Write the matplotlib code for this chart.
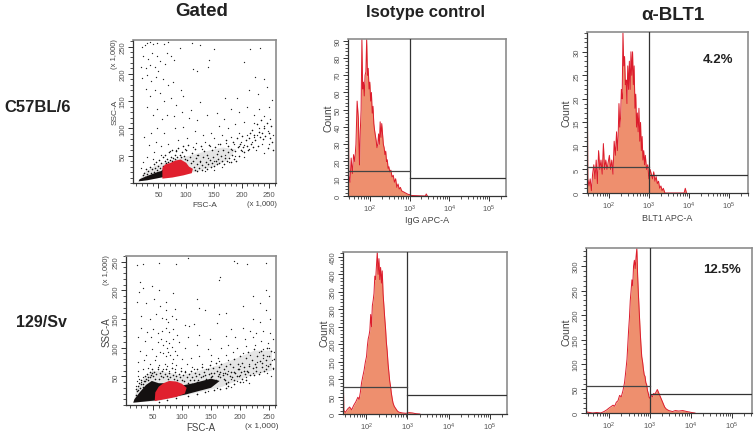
import matplotlib
matplotlib.use("Agg")
import matplotlib.pyplot as plt
import numpy as np
from matplotlib.ticker import LogLocator, MultipleLocator, NullFormatter

plt.rcParams['font.family'] = ['Liberation Sans', 'DejaVu Sans']
plt.rcParams['mathtext.default'] = 'regular'

W, H = 755, 435

# ---- scatter data (FSC, SSC in thousands)
top_core = [(14, 3), (30, 5), (60, 11), (62, 24), (48, 20), (30, 13), (16, 7)]
top_cloud = [(14, 3), (60, 11), (115, 20), (150, 30), (175, 42), (190, 62), (165, 65), (135, 58),
             (105, 50), (75, 42), (45, 32), (25, 20)]
top_gate = [(57, 8), (75, 10), (95, 14), (110, 18), (112, 26), (105, 30), (100, 37), (90, 43),
            (80, 41), (72, 37), (62, 34), (57, 28)]
top_points = [(20, 250), (25, 253), (30, 257), (34, 258), (40, 255), (47, 257), (60, 255), (68, 258), (88, 248),
              (110, 256), (125, 252), (150, 246), (215, 245), (233, 248), (22, 232), (31, 228), (38, 238),
              (47, 233), (52, 224), (65, 239), (72, 233), (18, 213), (27, 210), (35, 217), (44, 212), (50, 205),
              (62, 218), (78, 225), (113, 208), (120, 205), (140, 212), (142, 226), (205, 222), (225, 195),
              (240, 190), (20, 192), (29, 198), (37, 187), (46, 194), (58, 190), (67, 180), (77, 185), (90, 170),
              (27, 172), (35, 160), (44, 170), (52, 165), (60, 150), (72, 155), (82, 143), (95, 160), (108, 133),
              (125, 148), (170, 155), (192, 156), (214, 170), (230, 163), (245, 175), (255, 152), (250, 140),
              (30, 140), (40, 125), (47, 135), (56, 118), (66, 125), (78, 122), (92, 130), (105, 120), (120, 115),
              (137, 125), (155, 128), (168, 118), (181, 135), (196, 130), (210, 140), (222, 125), (232, 135),
              (241, 122), (252, 118), (222, 110), (232, 100), (240, 105), (248, 95), (256, 88), (204, 112),
              (188, 108), (176, 100), (160, 104), (145, 92), (130, 88), (115, 95), (95, 102), (80, 100), (60, 92),
              (48, 100), (36, 92), (24, 85), (33, 70), (45, 75), (55, 68), (68, 72), (85, 78), (102, 82), (118, 74),
              (134, 76), (150, 82), (165, 88), (180, 85), (195, 92), (210, 88), (222, 84), (236, 72), (250, 72),
              (228, 88), (218, 76), (205, 70), (198, 76), (186, 72), (172, 74), (158, 72), (143, 68), (128, 63),
              (112, 66), (98, 62), (82, 60), (70, 58), (55, 52), (42, 56), (30, 48), (22, 38), (18, 28), (40, 44),
              (200, 58), (214, 62), (226, 60), (240, 55), (205, 48), (188, 50), (178, 38), (165, 30), (150, 24),
              (133, 22), (150, 40), (140, 46), (125, 38), (170, 52), (195, 68), (183, 60), (157, 58), (120, 52)]
top_band = [(20, 8), (22, 14), (24, 19), (26, 11), (27, 25), (29, 16), (31, 22), (33, 12), (34, 30), (36, 19), (38, 26),
            (39, 14), (41, 34), (42, 20), (44, 27), (45, 17), (46, 38), (47, 24), (49, 31), (50, 19), (51, 42), (53, 28),
            (55, 36), (56, 23), (58, 47), (59, 31), (61, 40), (62, 52), (64, 36), (66, 44), (67, 38), (69, 56), (70, 42),
            (72, 48), (74, 40), (75, 61), (77, 46), (79, 52), (80, 44), (82, 58), (84, 48), (86, 64), (88, 52), (90, 47),
            (92, 57), (94, 67), (96, 50), (98, 44), (100, 60), (102, 42), (104, 70), (106, 48), (108, 36), (110, 55),
            (112, 40), (114, 30), (116, 62), (115, 24), (118, 45), (119, 34), (120, 22), (121, 52), (123, 28), (125, 41),
            (126, 68), (128, 33), (129, 24), (131, 47), (132, 58), (134, 30), (135, 38), (137, 26), (138, 52), (140, 34),
            (141, 70), (143, 42), (144, 29), (146, 60), (147, 36), (149, 48), (150, 31), (152, 66), (153, 40), (155, 34),
            (156, 53), (158, 44), (160, 36), (161, 72), (163, 49), (165, 40), (166, 60), (168, 35), (170, 46), (171, 78),
            (173, 40), (175, 56), (176, 68), (178, 46), (180, 38), (181, 62), (183, 52), (185, 75), (186, 44), (188, 58),
            (190, 40), (191, 82), (193, 66), (195, 50), (197, 72), (199, 60), (201, 86), (203, 66), (205, 56), (207, 78),
            (209, 68), (211, 60), (213, 82), (215, 92), (217, 72), (219, 98), (221, 66), (223, 88), (225, 78), (227, 108),
            (229, 68), (231, 94), (233, 84), (235, 115), (237, 92), (239, 80), (241, 100), (243, 86), (245, 110), (247, 64),
            (249, 92), (251, 82), (253, 104), (255, 76), (257, 60)]

bot_core = [(16, 4), (55, 8), (105, 18), (150, 30), (165, 42), (150, 46), (120, 38), (100, 34), (85, 38),
            (60, 38), (48, 42), (38, 35), (27, 22), (18, 10)]
bot_cloud = [(16, 4), (60, 7), (120, 20), (170, 32), (215, 50), (255, 60), (255, 95), (225, 95), (195, 82), (165, 70),
             (130, 60), (100, 52), (70, 58), (50, 60), (35, 48), (22, 28)]
bot_gate = [(53, 7), (70, 10), (90, 14), (105, 20), (108, 30), (100, 37), (90, 41), (78, 42), (68, 38),
            (60, 32), (54, 22)]
bot_points = [(22, 245), (32, 246), (60, 248), (90, 246), (110, 257), (190, 252), (195, 248), (212, 246), (245, 248),
              (165, 224), (163, 218), (28, 215), (26, 198), (33, 205), (48, 208), (60, 200), (73, 180), (85, 195),
              (125, 185), (222, 190), (245, 200), (250, 190), (235, 178), (22, 180), (38, 178), (52, 185), (62, 172),
              (72, 165), (88, 168), (130, 170), (140, 165), (163, 158), (175, 160), (205, 172), (245, 165), (252, 150),
              (235, 145), (222, 150), (30, 155), (44, 150), (55, 158), (65, 152), (72, 150), (76, 145), (82, 155),
              (90, 150), (105, 140), (112, 138), (120, 142), (160, 143), (185, 133), (205, 135), (218, 130), (228, 125),
              (240, 130), (252, 125), (30, 135), (40, 128), (50, 132), (58, 125), (66, 130), (72, 135), (78, 128),
              (84, 132), (92, 122), (110, 118), (130, 122), (148, 115), (175, 120), (192, 118), (208, 115), (222, 118),
              (236, 112), (248, 108), (256, 115), (24, 118), (36, 112), (46, 118), (58, 110), (64, 115), (68, 105),
              (72, 112), (75, 100), (78, 108), (82, 102), (85, 115), (88, 95), (94, 110), (105, 100), (125, 105),
              (145, 98), (168, 100), (180, 105), (195, 100), (210, 103), (225, 105), (240, 98), (250, 100), (258, 92),
              (28, 95), (38, 88), (48, 98), (55, 85), (62, 92), (67, 90), (72, 85), (76, 92), (80, 88), (85, 80),
              (92, 88), (100, 80), (115, 82), (130, 85), (150, 88), (162, 82), (175, 88), (188, 92), (205, 90),
              (218, 88), (232, 92), (246, 85), (255, 78), (25, 75), (35, 78), (45, 72), (53, 78), (60, 70), (70, 72),
              (75, 68), (82, 74), (90, 70), (98, 65), (108, 72), (118, 66), (135, 72), (150, 76), (163, 76), (180, 78),
              (200, 68), (215, 72), (230, 75), (245, 70), (256, 62), (24, 60), (32, 62), (42, 65), (58, 66), (68, 62),
              (78, 60), (88, 62), (105, 60), (120, 62), (200, 52), (210, 48), (222, 55), (235, 58), (246, 55), (253, 50),
              (185, 45), (195, 42), (205, 40), (215, 38), (175, 36), (185, 32), (160, 30), (145, 24), (125, 19),
              (22, 42), (20, 34), (25, 50), (30, 40), (26, 45), (33, 48), (180, 60), (170, 55), (142, 62), (240, 82)]
bot_band = [(20, 18), (22, 24), (24, 33), (26, 38), (28, 30), (30, 44), (32, 36), (34, 42), (36, 50), (38, 46), (40, 54),
            (42, 48), (44, 58), (46, 52), (48, 56), (21, 28), (25, 26), (29, 36), (33, 32), (37, 42), (41, 44), (45, 48),
            (49, 62), (50, 50), (52, 58), (54, 46), (56, 54), (58, 62), (60, 46), (62, 56), (64, 50), (66, 60), (68, 48),
            (70, 54), (72, 62), (74, 50), (76, 46), (78, 56), (80, 48), (82, 64), (84, 52), (86, 46), (88, 58), (90, 50),
            (92, 44), (94, 54), (96, 48), (98, 60), (100, 44), (102, 52), (104, 42), (106, 58), (108, 48), (110, 38),
            (112, 54), (114, 44), (116, 60), (118, 48), (120, 44), (122, 56), (124, 50), (126, 62), (128, 44), (130, 54),
            (132, 48), (134, 66), (136, 50), (138, 58), (140, 52), (142, 46), (144, 62), (146, 54), (148, 70), (150, 56),
            (152, 50), (154, 64), (156, 56), (158, 74), (160, 60), (162, 50), (164, 66), (166, 58), (168, 72), (170, 52),
            (172, 62), (174, 44), (176, 68), (178, 54), (180, 40), (182, 72), (184, 58), (186, 48), (188, 66), (190, 80),
            (192, 56), (194, 50), (196, 72), (198, 62), (200, 86), (202, 58), (204, 74), (206, 66), (208, 54), (210, 82),
            (212, 60), (214, 92), (216, 68), (218, 52), (220, 78), (222, 64), (224, 98), (226, 72), (228, 60), (230, 86),
            (232, 54), (234, 76), (236, 94), (238, 66), (240, 88), (242, 60), (244, 78), (246, 100), (248, 68), (250, 86),
            (252, 72), (254, 94), (256, 64), (258, 80), (110, 32), (118, 36), (126, 41), (134, 38), (142, 42), (150, 48),
            (158, 44), (166, 48), (172, 46), (176, 38), (183, 50), (190, 44), (198, 50), (204, 46), (214, 58), (224, 52),
            (228, 66), (238, 74), (244, 62), (190, 58), (196, 62), (206, 60), (174, 56), (164, 54), (60, 6), (75, 9),
            (90, 12), (110, 16), (125, 20), (140, 23), (155, 26), (165, 28), (175, 30), (180, 34), (190, 36), (200, 40),
            (210, 44)]

# ---- histogram data: log10 of the APC signal, counts
iso1_logx = [1.45, 1.47, 1.50, 1.53, 1.56, 1.59, 1.62, 1.65, 1.68, 1.71, 1.74, 1.76, 1.78, 1.80, 1.82, 1.84, 1.86, 1.88,
             1.90, 1.92, 1.94, 1.96, 1.98, 2.00, 2.02, 2.04, 2.06, 2.08, 2.10, 2.12, 2.14, 2.16, 2.18, 2.20, 2.22, 2.24,
             2.26, 2.28, 2.30, 2.32, 2.34, 2.36, 2.38, 2.40, 2.42, 2.44, 2.46, 2.48, 2.50, 2.53, 2.56, 2.59, 2.62, 2.65,
             2.68, 2.71, 2.74, 2.77, 2.80, 2.84, 2.88, 2.92, 2.96, 3.00, 3.05, 3.40, 3.42, 3.45]
iso1_count = [91, 12, 8, 22, 13, 24, 20, 30, 55, 45, 18, 38, 50, 91, 62, 66, 58, 70, 72, 91, 70, 74, 62, 66, 55, 60, 48,
              52, 42, 38, 35, 32, 28, 30, 36, 30, 43, 34, 42, 36, 30, 28, 24, 26, 20, 21, 16, 17, 14, 15, 11, 12, 8, 10,
              5, 7, 4, 5, 3, 2.5, 2, 1.5, 1, 0.8, 0.3, 0, 1.2, 0]

blt1_logx = [1.45, 1.47, 1.50, 1.53, 1.56, 1.59, 1.62, 1.65, 1.68, 1.71, 1.74, 1.77, 1.80, 1.83, 1.86, 1.89, 1.92, 1.95,
             1.98, 2.01, 2.04, 2.07, 2.10, 2.13, 2.16, 2.19, 2.21, 2.23, 2.25, 2.27, 2.29, 2.31, 2.33, 2.35, 2.37, 2.39,
             2.41, 2.43, 2.45, 2.47, 2.49, 2.51, 2.53, 2.55, 2.57, 2.59, 2.61, 2.63, 2.65, 2.67, 2.69, 2.71, 2.73, 2.75,
             2.77, 2.79, 2.81, 2.83, 2.85, 2.87, 2.89, 2.91, 2.94, 2.97, 3.00, 3.03, 3.06, 3.09, 3.12, 3.15, 3.18, 3.21,
             3.24, 3.27, 3.30, 3.33, 3.36, 3.40, 3.88, 3.91, 3.94]
blt1_count = [34, 3, 1.5, 3, 0.5, 4, 6, 3, 7, 2, 9, 5, 7, 4, 10.5, 5, 7, 5, 6.5, 8, 5, 7, 4, 11, 8, 13, 9, 12, 19, 14, 16,
              22, 20, 34, 27, 29, 23, 24, 19, 27, 22, 28, 22, 30, 25, 30, 23, 27, 18, 21, 14, 17, 13, 18, 11, 15, 9, 12,
              7, 9, 6, 8, 5, 6, 3, 5, 4, 3, 4.5, 2.5, 3.5, 2, 2.5, 1, 1.5, 0.5, 1, 0, 0, 1, 0]

iso2_logx = [1.44, 1.46, 1.50, 1.55, 1.60, 1.65, 1.70, 1.75, 1.80, 1.83, 1.86, 1.89, 1.92, 1.95, 1.98, 2.01, 2.03, 2.05,
             2.07, 2.09, 2.11, 2.13, 2.15, 2.17, 2.19, 2.21, 2.23, 2.25, 2.27, 2.29, 2.31, 2.33, 2.35, 2.37, 2.39, 2.41,
             2.43, 2.45, 2.47, 2.49, 2.51, 2.53, 2.55, 2.57, 2.59, 2.61, 2.63, 2.65, 2.68, 2.72, 2.76, 2.80, 2.88, 2.96,
             3.04, 3.12, 3.20, 3.30]
iso2_count = [150, 10, 5, 14, 20, 12, 25, 35, 48, 42, 62, 90, 108, 125, 148, 165, 195, 215, 225, 240, 285, 250, 310, 325,
              345, 395, 385, 425, 465, 400, 445, 385, 420, 375, 410, 345, 310, 275, 245, 205, 180, 145, 120, 95, 80, 60,
              45, 32, 22, 15, 8, 5, 3, 2, 4, 3, 1, 0]

blt2_logx = [1.44, 1.46, 1.60, 1.70, 1.80, 1.88, 1.94, 2.00, 2.05, 2.10, 2.14, 2.18, 2.22, 2.26, 2.30, 2.34, 2.38, 2.41,
             2.44, 2.46, 2.48, 2.50, 2.52, 2.54, 2.56, 2.58, 2.60, 2.62, 2.64, 2.66, 2.68, 2.70, 2.72, 2.74, 2.76, 2.78,
             2.80, 2.82, 2.84, 2.86, 2.88, 2.90, 2.92, 2.94, 2.96, 2.98, 3.00, 3.03, 3.06, 3.09, 3.12, 3.15, 3.18, 3.21,
             3.24, 3.28, 3.32, 3.36, 3.40, 3.46, 3.55, 3.62, 3.70, 3.80, 3.90, 4.02, 4.10]
blt2_count = [8, 2, 0, 1, 0, 3, 6, 10, 13, 16, 14, 22, 25, 36, 33, 45, 62, 85, 110, 140, 170, 195, 230, 250, 272, 260, 300,
              312, 295, 318, 337, 280, 240, 205, 170, 140, 115, 105, 90, 78, 75, 62, 58, 46, 40, 32, 30, 36, 33, 40, 38,
              43, 48, 42, 36, 28, 20, 12, 8, 5, 3, 5, 4, 5, 3, 1, 0]

scatter_ticks = [50, 100, 150, 200, 250]
log_ticks = [100, 1000, 10000, 100000]
log_labels = ['$10^{2}$', '$10^{3}$', '$10^{4}$', '$10^{5}$']

fig = plt.figure(figsize=(W / 100, H / 100), dpi=100)


def make_axes(left, right, top, bottom):
    return fig.add_axes([left / W, 1 - bottom / H, (right - left) / W, (bottom - top) / H])


def px_text(x, y, s, **kw):
    kw.setdefault('ha', 'center')
    kw.setdefault('va', 'center')
    kw.setdefault('color', '#444444')
    fig.text(x / W, 1 - y / H, s, **kw)


def style(ax, xpad):
    for side in ['top', 'right']:
        ax.spines[side].set_color('#8c8c8c')
        ax.spines[side].set_linewidth(1.2)
    for side in ['left', 'bottom']:
        ax.spines[side].set_color('#333333')
        ax.spines[side].set_linewidth(0.9)
    ax.tick_params(axis='x', which='major', length=3.5, width=0.7, labelsize=5.5, color='#333333',
                   labelcolor='#555555', pad=xpad)
    ax.tick_params(axis='y', which='major', length=3.5, width=0.7, labelsize=5.5, color='#333333',
                   labelcolor='#555555', pad=1)
    ax.tick_params(which='minor', length=2, width=0.6, color='#333333')
    for t in ax.get_yticklabels():
        t.set_rotation(90)
        t.set_va('center')


def scatter_panel(box, xlim, ylim, core, cloud, gate, points, band):
    ax = make_axes(*box)
    ax.set_xlim(*xlim)
    ax.set_ylim(*ylim)
    ax.fill(*zip(*cloud), color='#000000', alpha=0.10, linewidth=0, zorder=1)
    ax.fill(*zip(*core), color='#141010', linewidth=0, zorder=2)
    px, py = zip(*points)
    ax.scatter(px, py, s=0.9, c='#222222', linewidths=0, zorder=2)
    bx, by = zip(*band)
    ax.scatter(bx, by, s=1.3, c='#111111', linewidths=0, zorder=2)
    ax.fill(*zip(*gate), color='#e0202e', linewidth=0, zorder=3)
    ax.set_xticks(scatter_ticks)
    ax.set_yticks(scatter_ticks)
    ax.xaxis.set_minor_locator(MultipleLocator(10))
    ax.yaxis.set_minor_locator(MultipleLocator(10))
    style(ax, 2)


def hist_panel(box, xlim_log, ymax, logx, count, ticks_y, gate_left, gate_right):
    ax = make_axes(*box)
    x = 10 ** np.array(logx)
    ax.set_xscale('log')
    ax.set_xlim(10 ** xlim_log[0], 10 ** xlim_log[1])
    ax.set_ylim(0, ymax)
    ax.fill_between(x, count, 0, color='#ee8f6e', linewidth=0, zorder=1)
    ax.plot(x, count, color='#dc1c2c', lw=0.7, zorder=2)
    ax.plot([1000, 1000], [0, ymax], color='#333333', lw=0.9, zorder=3)
    ax.plot([10 ** xlim_log[0], 1000], [gate_left, gate_left], color='#444444', lw=0.9, zorder=3)
    ax.plot([1000, 10 ** xlim_log[1]], [gate_right, gate_right], color='#333333', lw=0.9, zorder=3)
    ax.set_xticks(log_ticks)
    ax.set_xticklabels(log_labels)
    ax.xaxis.set_minor_locator(LogLocator(base=10, subs=[2, 3, 4, 5, 6, 7, 8, 9], numticks=12))
    ax.xaxis.set_minor_formatter(NullFormatter())
    ax.set_yticks(ticks_y)
    ax.yaxis.set_minor_locator(MultipleLocator(ticks_y[1] / 5))
    style(ax, 1)


scatter_panel((133, 276, 41, 184), (4, 262), (0, 262), top_core, top_cloud, top_gate, top_points, top_band)
scatter_panel((126, 276, 257, 406), (3.5, 262), (0, 260), bot_core, bot_cloud, bot_gate, bot_points, bot_band)

hist_panel((348, 506, 40, 197), (1.45, 5.43), 91, iso1_logx, iso1_count, list(range(0, 100, 10)), 14.5, 10.4)
hist_panel((587, 748, 33, 194), (1.45, 5.48), 34.2, blt1_logx, blt1_count, [0, 5, 10, 15, 20, 25, 30], 5.5, 3.8)
hist_panel((343, 507, 253, 415), (1.44, 5.41), 464, iso2_logx, iso2_count, list(range(0, 500, 50)), 77, 54)
hist_panel((586, 752, 249, 414), (1.44, 5.49), 337, blt2_logx, blt2_count, [0, 50, 100, 150, 200, 250, 300], 55, 39)

# titles and row labels
px_text(202, 12, 'Gated', fontsize=13.5, fontweight='bold', color='#222222')
px_text(425, 12, 'Isotype control', fontsize=12, fontweight='bold', color='#222222')
px_text(673, 15, '\u03b1-BLT1', fontsize=13.5, fontweight='bold', color='#222222')
px_text(38, 107, 'C57BL/6', fontsize=12, fontweight='bold', color='#222222')
px_text(41, 323, '129/Sv', fontsize=11.5, fontweight='bold', color='#222222')
px_text(718, 60, '4.2%', fontsize=9.5, fontweight='bold', color='#222222')
px_text(722, 270, '12.5%', fontsize=9.5, fontweight='bold', color='#222222')

# axis captions
px_text(205, 206, 'FSC-A', fontsize=6)
px_text(262, 205, '(x 1,000)', fontsize=5.5)
px_text(115, 112, 'SSC-A', fontsize=6, rotation=90)
px_text(115, 54, '(x 1,000)', fontsize=5.5, rotation=90)
px_text(201, 428, 'FSC-A', fontsize=7)
px_text(262, 427, '(x 1,000)', fontsize=6)
px_text(107, 332, 'SSC-A', fontsize=7, rotation=90)
px_text(107, 270, '(x 1,000)', fontsize=5.5, rotation=90)
px_text(329, 118, 'Count', fontsize=7.5, rotation=90)
px_text(427, 221, 'IgG APC-A', fontsize=6.5)
px_text(567, 113, 'Count', fontsize=7.5, rotation=90)
px_text(667, 219, 'BLT1 APC-A', fontsize=6.5)
px_text(324, 333, 'Count', fontsize=7.5, rotation=90)
px_text(566, 332, 'Count', fontsize=7.5, rotation=90)

fig.savefig('out.png', dpi=100)
